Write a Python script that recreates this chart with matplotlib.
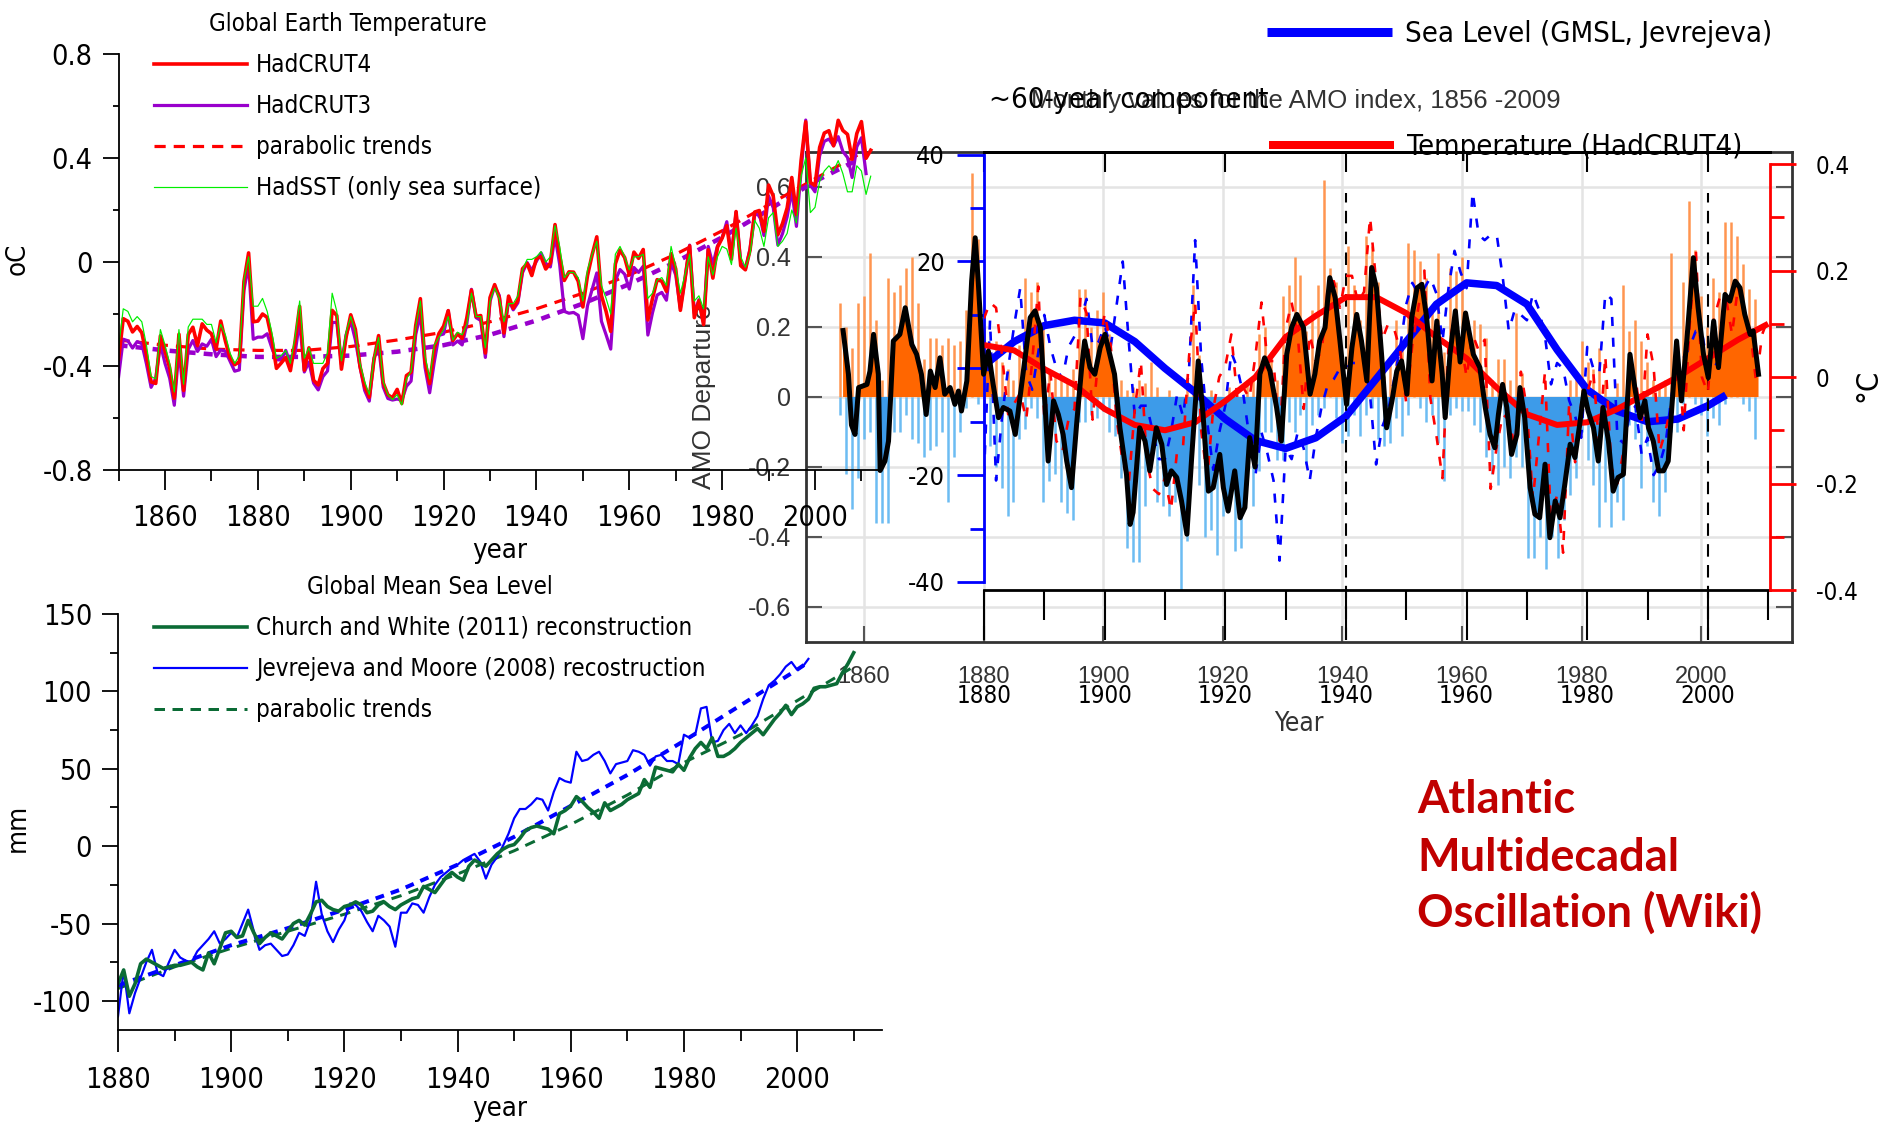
import os
import numpy as np
import matplotlib
matplotlib.use('Agg')
import matplotlib.pyplot as plt
from matplotlib import font_manager as fm
from matplotlib.font_manager import FontProperties
from matplotlib.ticker import FixedLocator, MultipleLocator, NullFormatter

W, H = 1886, 1126

_have = {f.name for f in fm.fontManager.ttflist}
ARIAL = 'Liberation Sans'
WIKI = 'Lato' if 'Lato' in _have else 'DejaVu Sans'


def find_narrow():
    files = [f.fname for f in fm.fontManager.ttflist]
    prefs = ['LiberationSansNarrow-Regular', 'NotoSans-Condensed.', 'NotoSans-SemiCondensed.',
             'DejaVuSansCondensed.', 'RobotoCondensed-Regular', 'Roboto-Condensed.',
             'OpenSans-CondensedRegular', 'OpenSans_Condensed-Regular']
    for p in prefs:
        for fn in files:
            if p in os.path.basename(fn):
                return fn
    return fm.findfont(ARIAL)


NARROW_FILE = find_narrow()

# ---------------- global temperature (annual, deg C) ----------------
TEMP_YEARS = list(range(1850, 2013))
HADCRUT4 = [
    -0.373, -0.218, -0.228, -0.269, -0.248, -0.272, -0.358, -0.461, -0.467, -0.284,
    -0.343, -0.407, -0.524, -0.278, -0.494, -0.279, -0.251, -0.321, -0.238, -0.262,
    -0.276, -0.335, -0.227, -0.304, -0.368, -0.395, -0.384, -0.075, 0.035, -0.230,
    -0.227, -0.200, -0.213, -0.296, -0.409, -0.389, -0.367, -0.418, -0.307, -0.171,
    -0.416, -0.330, -0.455, -0.473, -0.410, -0.390, -0.186, -0.206, -0.412, -0.289,
    -0.203, -0.259, -0.402, -0.479, -0.520, -0.377, -0.283, -0.465, -0.511, -0.522,
    -0.490, -0.544, -0.437, -0.424, -0.244, -0.141, -0.383, -0.468, -0.333, -0.275,
    -0.247, -0.187, -0.302, -0.276, -0.294, -0.215, -0.108, -0.210, -0.206, -0.350,
    -0.137, -0.087, -0.137, -0.273, -0.131, -0.178, -0.147, -0.026, -0.006, -0.052,
    0.014, 0.020, -0.027, -0.004, 0.144, 0.025, -0.071, -0.038, -0.039, -0.074,
    -0.173, -0.052, 0.028, 0.097, -0.129, -0.190, -0.267, -0.007, 0.046, 0.017,
    -0.049, 0.038, 0.014, 0.048, -0.223, -0.140, -0.068, -0.074, -0.113, 0.032,
    -0.027, -0.186, -0.065, 0.062, -0.214, -0.149, -0.241, 0.047, -0.062, 0.057,
    0.092, 0.140, 0.011, 0.194, -0.014, -0.030, 0.045, 0.192, 0.198, 0.118,
    0.296, 0.254, 0.105, 0.148, 0.208, 0.325, 0.183, 0.390, 0.539, 0.306,
    0.294, 0.441, 0.496, 0.505, 0.447, 0.545, 0.506, 0.491, 0.395, 0.494,
    0.540, 0.399, 0.430]
HADCRUT3_YEARS = list(range(1850, 2012))
HADCRUT3 = [
    -0.441, -0.297, -0.303, -0.331, -0.306, -0.314, -0.392, -0.482, -0.447, -0.316,
    -0.390, -0.447, -0.551, -0.337, -0.516, -0.336, -0.302, -0.344, -0.315, -0.324,
    -0.297, -0.364, -0.338, -0.343, -0.382, -0.420, -0.415, -0.109, -0.010, -0.297,
    -0.289, -0.289, -0.276, -0.330, -0.376, -0.377, -0.340, -0.390, -0.351, -0.227,
    -0.423, -0.385, -0.466, -0.492, -0.441, -0.419, -0.232, -0.233, -0.394, -0.280,
    -0.227, -0.300, -0.403, -0.494, -0.535, -0.370, -0.322, -0.481, -0.525, -0.531,
    -0.527, -0.532, -0.478, -0.458, -0.279, -0.199, -0.405, -0.503, -0.384, -0.282,
    -0.277, -0.187, -0.319, -0.304, -0.319, -0.239, -0.105, -0.214, -0.225, -0.367,
    -0.151, -0.093, -0.129, -0.287, -0.147, -0.184, -0.157, -0.041, -0.002, -0.032,
    0.003, 0.035, -0.005, -0.019, 0.100, -0.009, -0.190, -0.197, -0.194, -0.205,
    -0.295, -0.168, -0.105, -0.042, -0.228, -0.280, -0.335, -0.071, -0.029, -0.047,
    -0.104, -0.021, -0.040, -0.016, -0.281, -0.195, -0.127, -0.117, -0.147, -0.002,
    -0.050, -0.179, -0.065, 0.065, -0.197, -0.145, -0.236, 0.060, -0.009, 0.062,
    0.094, 0.155, 0.023, 0.192, -0.003, -0.028, 0.050, 0.180, 0.187, 0.102,
    0.254, 0.210, 0.065, 0.109, 0.174, 0.276, 0.137, 0.351, 0.546, 0.296,
    0.270, 0.409, 0.464, 0.473, 0.447, 0.482, 0.425, 0.402, 0.325, 0.443,
    0.478, 0.340]
HADSST = [
    -0.33, -0.18, -0.19, -0.23, -0.21, -0.23, -0.32, -0.44, -0.45, -0.26,
    -0.32, -0.39, -0.50, -0.26, -0.47, -0.25, -0.22, -0.22, -0.22, -0.24,
    -0.24, -0.31, -0.24, -0.28, -0.35, -0.39, -0.36, -0.07, 0.02, -0.17,
    -0.17, -0.14, -0.19, -0.27, -0.37, -0.36, -0.34, -0.39, -0.29, -0.15,
    -0.37, -0.33, -0.39, -0.39, -0.39, -0.35, -0.12, -0.19, -0.38, -0.27,
    -0.21, -0.27, -0.39, -0.46, -0.51, -0.37, -0.29, -0.46, -0.51, -0.53,
    -0.51, -0.55, -0.45, -0.42, -0.25, -0.15, -0.36, -0.45, -0.32, -0.29,
    -0.26, -0.21, -0.30, -0.27, -0.28, -0.24, -0.12, -0.21, -0.21, -0.33,
    -0.15, -0.10, -0.14, -0.23, -0.16, -0.16, -0.13, -0.03, 0.01, 0.01,
    0.02, 0.04, 0.00, 0.02, 0.14, 0.06, -0.06, -0.04, -0.04, -0.06,
    -0.15, -0.03, 0.03, 0.08, -0.09, -0.14, -0.20, 0.03, 0.06, 0.02,
    -0.03, 0.02, 0.02, 0.03, -0.14, -0.12, -0.07, -0.06, -0.09, 0.06,
    -0.02, -0.12, -0.05, 0.03, -0.15, -0.13, -0.18, 0.02, -0.05, 0.02,
    0.06, 0.05, -0.01, 0.13, 0.02, -0.02, 0.03, 0.16, 0.13, 0.06,
    0.17, 0.19, 0.06, 0.08, 0.11, 0.20, 0.15, 0.33, 0.40, 0.19,
    0.21, 0.31, 0.35, 0.37, 0.35, 0.39, 0.34, 0.27, 0.27, 0.37,
    0.35, 0.26, 0.33]
TREND_YEARS = list(range(1850, 2011, 10))
HADCRUT4_TREND = [-0.30, -0.32, -0.335, -0.34, -0.34, -0.325, -0.30, -0.27, -0.23,
                  -0.18, -0.12, -0.05, 0.03, 0.12, 0.22, 0.32, 0.42]
HADCRUT3_TREND = [-0.32, -0.34, -0.355, -0.365, -0.365, -0.36, -0.345, -0.32, -0.28,
                  -0.225, -0.16, -0.085, 0.0, 0.095, 0.20, 0.31, 0.40]
TEMP_XTICKS = [1860, 1880, 1900, 1920, 1940, 1960, 1980, 2000]
TEMP_YTICKS = [-0.8, -0.4, 0, 0.4, 0.8]
TEMP_YTICK_LABELS = ['-0.8', '-0.4', '0', '0.4', '0.8']

# ---------------- global mean sea level (mm) ----------------
CW_YEARS = list(range(1880, 2011))
CHURCH_WHITE = [
    -89, -80, -97, -89, -76, -73, -75, -77, -79, -78,
    -77, -77, -76, -75, -78, -80, -69, -76, -66, -56,
    -55, -59, -58, -48, -56, -63, -59, -56, -58, -60,
    -55, -50, -48, -51, -44, -36, -35, -39, -41, -42,
    -39, -38, -36, -38, -43, -42, -38, -36, -39, -41,
    -38, -36, -34, -33, -26, -28, -30, -25, -20, -17,
    -20, -22, -13, -9, -11, -13, -9, -5, -2, 0,
    1, 5, 10, 12, 13, 12, 11, 8, 21, 23,
    26, 32, 29, 25, 22, 18, 28, 23, 25, 27,
    30, 32, 34, 43, 38, 51, 50, 49, 48, 53,
    49, 57, 63, 67, 63, 70, 58, 58, 60, 63,
    67, 70, 73, 76, 72, 77, 82, 86, 91, 85,
    90, 92, 95, 102, 103, 103, 104, 105, 112, 118,
    125]
JM_YEARS = list(range(1880, 2003))
JEVREJEVA = [
    -110, -80, -108, -95, -85, -75, -67, -82, -84, -75,
    -67, -72, -74, -75, -68, -64, -60, -55, -63, -60,
    -56, -59, -50, -41, -55, -67, -64, -63, -67, -71,
    -70, -64, -56, -58, -48, -23, -44, -55, -62, -54,
    -48, -37, -38, -42, -49, -55, -45, -48, -52, -65,
    -43, -43, -37, -38, -43, -33, -25, -20, -17, -14,
    -12, -9, -7, -5, -10, -21, -12, -7, 0, 8,
    18, 24, 24, 27, 31, 30, 23, 35, 44, 42,
    41, 61, 55, 56, 59, 61, 55, 47, 53, 54,
    55, 62, 61, 59, 52, 58, 59, 55, 55, 53,
    72, 70, 72, 89, 90, 67, 68, 75, 79, 73,
    78, 73, 78, 84, 95, 104, 107, 111, 116, 119,
    114, 116, 121]
CW_TREND_YEARS = list(range(1880, 2011, 10))
CW_TREND = [-92, -78, -66, -55, -44, -32, -18, -3, 14, 33, 54, 72, 94, 116]
JM_TREND_YEARS = list(range(1880, 2001, 10)) + [2002]
JM_TREND = [-90, -77, -64, -53, -41, -28, -12, 6, 26, 46, 68, 91, 114, 119]
SL_XTICKS = [1880, 1900, 1920, 1940, 1960, 1980, 2000]
SL_YTICKS = [-100, -50, 0, 50, 100, 150]

# ---------------- AMO index (Wikipedia panel) ----------------
AMO_YEARS = list(range(1856, 2010))
AMO_MAX = [
    0.27, 0.20, 0.14, 0.27, 0.29, 0.41, 0.22, 0.05, 0.34, 0.30,
    0.32, 0.37, 0.40, 0.27, 0.11, 0.17, 0.17, 0.15, 0.17, 0.15,
    0.16, 0.25, 0.64, 0.45, 0.20, 0.10, 0.16, 0.10, 0.08, 0.05,
    0.15, 0.34, 0.30, 0.33, 0.20, 0.07, 0.06, 0.05, 0.04, 0.08,
    0.31, 0.31, 0.20, 0.25, 0.30, 0.18, 0.07, 0.05, 0.02, 0.03,
    0.05, 0.04, 0.10, 0.03, 0.00, 0.02, 0.00, 0.00, 0.05, 0.32,
    0.12, 0.00, 0.02, 0.00, 0.00, 0.03, 0.00, 0.00, 0.05, 0.05,
    0.18, 0.20, 0.13, 0.05, 0.29, 0.32, 0.40, 0.35, 0.19, 0.25,
    0.32, 0.62, 0.37, 0.33, 0.10, 0.43, 0.32, 0.22, 0.46, 0.43,
    0.33, 0.06, 0.10, 0.22, 0.16, 0.44, 0.42, 0.39, 0.34, 0.25,
    0.41, 0.13, 0.37, 0.36, 0.40, 0.22, 0.22, 0.21, 0.17, 0.05,
    0.11, 0.11, 0.05, 0.24, 0.07, 0.00, 0.00, 0.00, 0.00, 0.00,
    0.00, 0.00, 0.05, 0.07, 0.16, 0.10, 0.08, 0.14, 0.05, 0.00,
    0.04, 0.32, 0.19, 0.22, 0.16, 0.10, 0.05, 0.03, 0.05, 0.41,
    0.15, 0.33, 0.56, 0.42, 0.29, 0.20, 0.34, 0.30, 0.50, 0.50,
    0.46, 0.38, 0.31, 0.28]
AMO_MIN = [
    -0.05, -0.22, -0.32, -0.23, -0.12, -0.10, -0.36, -0.36, -0.36, -0.10,
    -0.10, -0.05, -0.12, -0.13, -0.17, -0.15, -0.14, -0.10, -0.30, -0.17,
    -0.10, -0.03, 0.00, -0.02, -0.08, -0.14, -0.20, -0.26, -0.34, -0.30,
    -0.12, -0.09, -0.03, -0.06, -0.30, -0.24, -0.22, -0.30, -0.33, -0.35,
    -0.07, -0.07, -0.05, -0.06, -0.04, -0.10, -0.11, -0.23, -0.43, -0.47,
    -0.47, -0.31, -0.20, -0.30, -0.31, -0.34, -0.30, -0.55, -0.41, -0.10,
    -0.25, -0.40, -0.38, -0.45, -0.34, -0.30, -0.44, -0.43, -0.25, -0.31,
    -0.21, -0.10, -0.10, -0.18, -0.18, -0.07, -0.10, -0.05, -0.19, -0.08,
    -0.05, -0.03, 0.00, -0.06, -0.13, -0.11, -0.05, -0.11, -0.05, -0.03,
    -0.12, -0.14, -0.13, -0.06, -0.11, -0.05, 0.00, -0.03, -0.07, -0.05,
    -0.13, -0.24, -0.05, -0.03, -0.04, -0.04, -0.08, -0.10, -0.17, -0.22,
    -0.25, -0.20, -0.23, -0.17, -0.20, -0.46, -0.46, -0.40, -0.49, -0.40,
    -0.46, -0.35, -0.28, -0.23, -0.10, -0.18, -0.25, -0.37, -0.30, -0.37,
    -0.30, -0.35, -0.08, -0.12, -0.26, -0.14, -0.30, -0.34, -0.27, -0.10,
    -0.10, -0.02, 0.00, -0.02, -0.05, -0.11, -0.06, -0.08, -0.02, 0.00,
    0.00, -0.02, -0.04, -0.12]
SM_YEAR = [
    1856.5, 1857.4, 1857.9, 1858.5, 1859.1, 1860.5, 1861.0, 1861.6, 1862.4, 1862.7,
    1863.5, 1864.1, 1864.9, 1866.0, 1866.9, 1868.0, 1868.8, 1869.6, 1870.4, 1871.1,
    1871.9, 1872.7, 1873.5, 1874.4, 1875.2, 1875.8, 1876.3, 1877.2, 1878.0, 1878.6,
    1879.1, 1880.0, 1880.8, 1881.6, 1882.5, 1883.3, 1884.4, 1885.3, 1886.1, 1887.0,
    1887.8, 1888.6, 1889.5, 1890.3, 1890.8, 1891.7, 1892.5, 1893.3, 1893.9, 1894.7,
    1895.6, 1896.4, 1896.9, 1897.8, 1898.6, 1899.5, 1900.3, 1901.1, 1901.9, 1902.8,
    1903.9, 1904.5, 1905.0, 1905.6, 1906.1, 1907.0, 1907.8, 1908.9, 1909.8, 1910.6,
    1911.4, 1912.3, 1913.1, 1914.0, 1914.8, 1915.9, 1916.7, 1917.6, 1918.4, 1919.5,
    1920.1, 1920.9, 1922.0, 1922.9, 1923.7, 1924.5, 1925.4, 1926.2, 1927.0, 1927.9,
    1929.0, 1929.8, 1930.7, 1931.5, 1932.4, 1933.5, 1934.6, 1935.4, 1936.2, 1937.1,
    1937.9, 1938.8, 1939.6, 1940.7, 1941.6, 1942.4, 1943.2, 1944.1, 1944.9, 1945.7,
    1946.6, 1947.4, 1948.3, 1949.1, 1949.9, 1950.8, 1951.6, 1952.5, 1953.3, 1954.1,
    1955.0, 1955.8, 1956.7, 1957.2, 1958.0, 1958.9, 1959.7, 1960.6, 1961.9, 1963.0,
    1963.9, 1964.7, 1965.5, 1966.1, 1966.8, 1967.5, 1968.3, 1969.2, 1969.7, 1970.5,
    1971.4, 1972.2, 1973.0, 1973.9, 1974.7, 1975.6, 1976.4, 1977.2, 1978.1, 1978.9,
    1979.7, 1980.4, 1981.1, 1982.0, 1982.8, 1983.6, 1984.5, 1985.3, 1986.1, 1987.0,
    1988.1, 1989.0, 1989.8, 1990.6, 1991.2, 1992.0, 1992.9, 1993.7, 1994.5, 1995.1,
    1995.9, 1996.7, 1997.6, 1998.7, 1999.5, 2000.4, 2001.2, 2002.1, 2002.9, 2004.0,
    2004.8, 2005.7, 2006.5, 2007.3, 2008.2, 2008.7, 2009.6]
SM_VAL = [
    0.19, 0.065, -0.08, -0.107, 0.027, 0.036, 0.074, 0.179, 0.065, -0.21,
    -0.183, -0.126, 0.16, 0.179, 0.255, 0.15, 0.122, 0.065, -0.05, 0.074,
    0.027, 0.112, 0.008, 0.027, -0.021, 0.017, -0.04, 0.046, 0.331, 0.455,
    0.331, 0.065, 0.131, 0.036, -0.059, -0.03, -0.04, -0.107, 0.0, 0.122,
    0.227, 0.246, 0.198, -0.03, -0.183, -0.011, -0.05, -0.107, -0.183, -0.259,
    -0.069, 0.084, 0.16, 0.084, 0.065, 0.141, 0.179, 0.122, 0.065, -0.088,
    -0.221, -0.364, -0.33, -0.2, -0.088, -0.126, -0.211, -0.088, -0.135, -0.25,
    -0.211, -0.23, -0.297, -0.392, -0.173, 0.103, -0.05, -0.269, -0.259, -0.164,
    -0.259, -0.326, -0.211, -0.345, -0.316, -0.116, -0.2, 0.065, 0.112, 0.074,
    -0.03, -0.126, 0.122, 0.198, 0.236, 0.198, 0.008, 0.065, 0.16, 0.198,
    0.341, 0.284, 0.16, -0.021, 0.141, 0.236, 0.16, 0.046, 0.37, 0.312,
    0.112, -0.088, -0.011, 0.074, 0.103, 0.008, 0.227, 0.312, 0.322, 0.227,
    0.046, 0.217, 0.065, -0.059, 0.122, 0.246, 0.1, 0.24, 0.122, 0.084,
    -0.03, -0.107, -0.145, -0.05, 0.036, -0.03, -0.164, -0.107, 0.027, -0.059,
    -0.259, -0.335, -0.345, -0.192, -0.402, -0.297, -0.345, -0.25, -0.135, -0.173,
    -0.078, 0.017, -0.04, -0.088, -0.183, -0.03, -0.126, -0.269, -0.23, -0.221,
    0.122, 0.017, -0.059, -0.011, -0.088, -0.126, -0.211, -0.211, -0.183, -0.03,
    0.16, -0.011, 0.16, 0.398, 0.255, 0.122, 0.055, 0.217, 0.084, 0.293,
    0.274, 0.331, 0.312, 0.236, 0.179, 0.189, 0.065]
AMO_XTICKS = [1860, 1880, 1900, 1920, 1940, 1960, 1980, 2000]
AMO_YTICKS = [-0.6, -0.4, -0.2, 0, 0.2, 0.4, 0.6]
AMO_YTICK_LABELS = ['-0.6', '-0.4', '-0.2', '0', '0.2', '0.4', '0.6']

# ---------------- ~60-year component overlay ----------------
T_DETR_YEARS = list(range(1880, 2011))
T_DETR = [
    0.11, 0.14, 0.13, 0.04, -0.07, -0.05, -0.03, -0.08, 0.03, 0.17,
    -0.08, 0.01, -0.12, -0.14, -0.08, -0.06, 0.15, 0.12, -0.08, 0.04,
    0.12, 0.06, -0.08, -0.16, -0.20, -0.06, 0.03, -0.16, -0.21, -0.22,
    -0.19, -0.25, -0.14, -0.13, 0.04, 0.14, -0.10, -0.19, -0.06, 0.00,
    0.02, 0.08, -0.04, -0.02, -0.04, 0.04, 0.14, 0.03, 0.03, -0.12,
    0.09, 0.14, 0.08, -0.06, 0.08, 0.03, 0.05, 0.17, 0.18, 0.13,
    0.19, 0.19, 0.14, 0.16, 0.30, 0.18, 0.07, 0.10, 0.09, 0.05,
    -0.05, 0.06, 0.13, 0.20, -0.04, -0.11, -0.19, 0.06, 0.11, 0.07,
    0.00, 0.08, 0.05, 0.07, -0.21, -0.13, -0.07, -0.08, -0.13, 0.01,
    -0.06, -0.23, -0.11, 0.01, -0.28, -0.22, -0.33, -0.05, -0.16, -0.05,
    -0.03, 0.01, -0.13, 0.04, -0.17, -0.20, -0.14, 0.00, 0.00, -0.09,
    0.08, 0.02, -0.14, -0.10, -0.05, 0.06, -0.10, 0.10, 0.24, 0.00,
    -0.03, 0.11, 0.15, 0.15, 0.08, 0.17, 0.12, 0.09, -0.01, 0.08,
    0.11]
SL_DETR_YEARS = list(range(1880, 2003))
SL_DETR = [
    -20, 9, -21, -9, 0, 8, 15, -1, -4, 3,
    10, 4, 0, -2, 4, 6, 9, 13, 4, 5,
    8, 4, 12, 20, 5, -9, -7, -7, -12, -17,
    -17, -12, -5, -9, 0, 24, 2, -10, -19, -12,
    -7, 3, 0, -5, -13, -20, -12, -16, -21, -36,
    -15, -17, -12, -15, -21, -13, -7, -3, -2, 0,
    0, 1, 1, 2, -5, -18, -11, -8, -2, 4,
    12, 16, 14, 15, 17, 14, 5, 15, 22, 18,
    15, 33, 25, 24, 25, 25, 17, 7, 11, 10,
    9, 14, 11, 6, -3, 1, 0, -6, -9, -13,
    4, 0, -1, 14, 13, -13, -14, -9, -7, -16,
    -13, -20, -18, -14, -5, 1, 2, 4, 7, 7,
    0, 0, 2]
COMP_T_YEARS = list(range(1880, 2011, 5))
COMP_T = [0.06, 0.05, 0.015, -0.015, -0.06, -0.09, -0.10, -0.085, -0.045, 0.0,
          0.075, 0.115, 0.15, 0.15, 0.12, 0.075, 0.035, -0.02, -0.07, -0.09,
          -0.085, -0.06, -0.03, 0.0, 0.035, 0.07, 0.10]
COMP_SL_YEARS = list(range(1880, 2001, 5)) + [2003]
COMP_SL = [0.5, 5, 8, 9, 8.5, 5, 0, -4.5, -9.5, -13.5, -15, -13, -9, -2, 5, 12,
           16, 15.5, 12, 3.5, -4, -8, -10, -9.5, -7, -5]
C60_XTICKS = [1880, 1900, 1920, 1940, 1960, 1980, 2000]
C60_SL_TICKS = [-40, -20, 0, 20, 40]
C60_SL_LABELS = ['-40', '-20', '', '20', '40']
C60_T_TICKS = [-0.4, -0.2, 0, 0.2, 0.4]
C60_T_LABELS = ['-0.4', '-0.2', '0', '0.2', '0.4']
PERIOD_MARKS = [1940, 2000]


def rect(x0, y0, x1, y1):
    """pixel box (top-left origin) -> figure fraction rect"""
    return [x0 / W, 1 - y1 / H, (x1 - x0) / W, (y1 - y0) / H]


def pt(pixels):
    return pixels * 0.72


fig = plt.figure(figsize=(W / 100, H / 100), dpi=100)
fig.patch.set_facecolor('white')
renderer = fig.canvas.get_renderer()


def text_box(s, fp):
    t = fig.text(0, 0, s, fontproperties=fp)
    bb = t.get_window_extent(renderer)
    t.remove()
    return bb.width, bb.height


# scale the narrow face so its widths match the reference lettering
_w, _ = text_box('Global Earth Temperature', FontProperties(fname=NARROW_FILE, size=21))
NSCALE = 277.0 / _w


def nfp(size):
    return FontProperties(fname=NARROW_FILE, size=size * NSCALE)


def narrow_ticks(labels, size):
    for lab in labels:
        lab.set_fontproperties(nfp(size))


# ===== AMO panel (bottom layer) =====
ax_amo = fig.add_axes(rect(806, 152, 1792, 642), zorder=1)
ax_amo.set_xlim(1850.3, 2015.2)
ax_amo.set_ylim(-0.7, 0.7)
ax_amo.set_xticks(AMO_XTICKS)
ax_amo.set_xticklabels([str(y) for y in AMO_XTICKS])
ax_amo.set_yticks(AMO_YTICKS)
ax_amo.set_yticklabels(AMO_YTICK_LABELS)
ax_amo.grid(True, color='#e4e4e4', lw=1.8)
ax_amo.set_axisbelow(True)
ax_amo.tick_params(direction='in', length=pt(16), width=1.5, color='#555555',
                   labelcolor='#333333', right=True, labelfontfamily=ARIAL)
ax_amo.tick_params(axis='x', labelsize=17, pad=pt(24))
ax_amo.tick_params(axis='y', labelsize=18, pad=pt(15))
for s in ax_amo.spines.values():
    s.set_color('#333333')
    s.set_linewidth(2)

ax_amo.vlines(AMO_YEARS, 0, AMO_MAX, color='#ff9550', lw=1.8, zorder=2)
ax_amo.vlines(AMO_YEARS, AMO_MIN, 0, color='#6cbcf2', lw=1.8, zorder=2)
sm = np.array(SM_VAL)
ax_amo.fill_between(SM_YEAR, sm, 0, where=sm >= 0, interpolate=True,
                    color='#ff6600', lw=0, zorder=3)
ax_amo.fill_between(SM_YEAR, sm, 0, where=sm <= 0, interpolate=True,
                    color='#3d9be9', lw=0, zorder=3)

# ===== ~60-year component overlay =====
ax60 = fig.add_axes(rect(984, 152, 1770, 590), zorder=2)
ax60.patch.set_visible(False)
ax60.set_xlim(1880, 2010.3)
ax60.set_ylim(-41.5, 40.5)
ax60r = ax60.twinx()
ax60r.set_zorder(2.2)
ax60r.patch.set_visible(False)
ax60r.set_ylim(-0.3946, 0.4226)

ax60.plot(SL_DETR_YEARS, SL_DETR, color='#0000ff', lw=pt(2.6), dashes=(3.5, 4.5))
ax60r.plot(T_DETR_YEARS, T_DETR, color='#ff0000', lw=pt(2.6), dashes=(3.5, 4.5))
sl_line, = ax60.plot(COMP_SL_YEARS, COMP_SL, color='#0000ff', lw=pt(7.5),
                     solid_capstyle='butt')
t_line, = ax60r.plot(COMP_T_YEARS, COMP_T, color='#ff0000', lw=pt(6),
                     solid_capstyle='butt')
for yr in PERIOD_MARKS:
    ax60.axvline(yr, ymin=-50 / 438, ymax=(590 - 193) / 438, color='k',
                 lw=1.5, dashes=(6, 4), clip_on=False)

ax60.set_xticks(C60_XTICKS)
ax60.set_xticklabels([str(y) for y in C60_XTICKS])
ax60.xaxis.set_minor_locator(MultipleLocator(10))
ax60.tick_params(axis='x', which='major', direction='out', length=pt(50),
                 width=1.5, color='k', pad=pt(44))
ax60.tick_params(axis='x', which='minor', direction='out', length=pt(30),
                 width=1.5, color='k')
narrow_ticks(ax60.get_xticklabels(), 21)
ax60.set_yticks(C60_SL_TICKS)
ax60.set_yticklabels(C60_SL_LABELS)
ax60.yaxis.set_minor_locator(FixedLocator([-30, -10, 10, 30]))
ax60.tick_params(axis='y', which='major', direction='out', length=pt(27),
                 width=2, color='#0000ff', pad=pt(12))
ax60.tick_params(axis='y', which='minor', direction='out', length=pt(14),
                 width=2, color='#0000ff')
narrow_ticks(ax60.get_yticklabels(), 22)
ax60.spines['left'].set_color('#0000ff')
ax60.spines['left'].set_linewidth(2)
ax60.spines['left'].set_bounds(-40, 40)
ax60.spines['right'].set_visible(False)
for s in ('top', 'bottom'):
    ax60.spines[s].set_color('k')
    ax60.spines[s].set_linewidth(2)
top = ax60.secondary_xaxis('top')
top.set_xticks(C60_XTICKS)
top.xaxis.set_major_formatter(NullFormatter())
top.tick_params(direction='in', length=pt(20), width=1.5, color='k')
top.spines['top'].set_linewidth(2)

ax60r.set_yticks(C60_T_TICKS)
ax60r.set_yticklabels(C60_T_LABELS)
ax60r.yaxis.set_minor_locator(FixedLocator([-0.3, -0.1, 0.1, 0.3]))
ax60r.tick_params(axis='y', which='major', direction='out', length=pt(26),
                  width=2, color='#ff0000', pad=pt(20))
ax60r.tick_params(axis='y', which='minor', direction='out', length=pt(14),
                  width=2, color='#ff0000')
narrow_ticks(ax60r.get_yticklabels(), 21)
for s in ('left', 'top', 'bottom'):
    ax60r.spines[s].set_visible(False)
ax60r.spines['right'].set_color('#ff0000')
ax60r.spines['right'].set_linewidth(2)
ax60r.spines['right'].set_bounds(-0.4, 0.4)

big = nfp(25.5)
big_px = big.get_size() / 0.72
leg1 = ax60r.legend([sl_line], ['Sea Level (GMSL, Jevrejeva)'], loc='center left',
                    bbox_to_anchor=(1267 / W, 1 - 34 / H), bbox_transform=fig.transFigure,
                    frameon=False, borderpad=0, borderaxespad=0,
                    handlelength=125 / big_px, handletextpad=13 / big_px, prop=big)
leg1.legend_handles[0].set_linewidth(pt(9))
ax60r.add_artist(leg1)
leg2 = ax60r.legend([t_line], ['Temperature (HadCRUT4)'], loc='center left',
                    bbox_to_anchor=(1269 / W, 1 - 147 / H), bbox_transform=fig.transFigure,
                    frameon=False, borderpad=0, borderaxespad=0,
                    handlelength=125 / big_px, handletextpad=13 / big_px, prop=big)
leg2.legend_handles[0].set_linewidth(pt(8))

# smoothed AMO curve on top of everything in that panel
ax_top = fig.add_axes(rect(806, 152, 1792, 642), zorder=3)
ax_top.set_xlim(1850.3, 2015.2)
ax_top.set_ylim(-0.7, 0.7)
ax_top.axis('off')
ax_top.plot(SM_YEAR, SM_VAL, color='k', lw=pt(5), solid_joinstyle='round')

fig.text(1296 / W, 1 - 101 / H, 'Monthly values for the AMO index, 1856 -2009',
         ha='center', va='center', family=ARIAL, size=18.5, color='#333333', zorder=4.5)
fig.text(989 / W, 1 - 100 / H, '~60-year component', ha='left', va='center',
         fontproperties=nfp(25.5), color='k', zorder=5)
fig.text(704 / W, 1 - 397 / H, 'AMO Departure', rotation=90, ha='center', va='center',
         family=ARIAL, size=19, color='#333333', zorder=3.5)
fig.text(1299 / W, 1 - 724 / H, 'Year', ha='center', va='center',
         fontproperties=nfp(23), color='#333333')
fig.text(1868 / W, 1 - 385 / H, '°C', rotation=90, ha='center', va='center',
         fontproperties=nfp(27))

# legend geometry: rows 41 px apart, title centred on the given y
small = nfp(21)
small_px = small.get_size() / 0.72
_, row_h = text_box('lp', small)
SPACING = (41 - row_h) / small_px

# ===== Global Earth Temperature =====
ax_t = fig.add_axes(rect(118.6, 54, 880, 470), zorder=4)
ax_t.patch.set_visible(False)
ax_t.set_xlim(1850, 2014)
ax_t.set_ylim(-0.8, 0.8)
lp4, = ax_t.plot(TREND_YEARS, HADCRUT4_TREND, color='#ff0000', lw=pt(3.2), dashes=(3.5, 2.5))
ax_t.plot(TREND_YEARS, HADCRUT3_TREND, color='#9900cc', lw=pt(4.5), dashes=(2, 1.8))
l3, = ax_t.plot(HADCRUT3_YEARS, HADCRUT3, color='#9900cc', lw=pt(3.2))
l4, = ax_t.plot(TEMP_YEARS, HADCRUT4, color='#ff0000', lw=pt(3.6))
lsst, = ax_t.plot(TEMP_YEARS, HADSST, color='#00ee00', lw=pt(1.2))
ax_t.set_xticks(TEMP_XTICKS)
ax_t.set_xticklabels([str(y) for y in TEMP_XTICKS])
ax_t.xaxis.set_minor_locator(MultipleLocator(10))
ax_t.set_yticks(TEMP_YTICKS)
ax_t.set_yticklabels(TEMP_YTICK_LABELS)
ax_t.yaxis.set_minor_locator(MultipleLocator(0.2))
for s in ('top', 'right'):
    ax_t.spines[s].set_visible(False)
for s in ('left', 'bottom'):
    ax_t.spines[s].set_linewidth(1.3)
ax_t.tick_params(which='both', direction='out', width=1.3)
ax_t.tick_params(axis='x', which='major', length=pt(20), pad=pt(14))
ax_t.tick_params(axis='x', which='minor', length=pt(11))
ax_t.tick_params(axis='y', which='major', length=pt(16), pad=pt(10))
ax_t.tick_params(axis='y', which='minor', length=pt(6))
narrow_ticks(ax_t.get_xticklabels() + ax_t.get_yticklabels(), 25)
ax_t.legend([l4, l3, lp4, lsst],
            ['HadCRUT4', 'HadCRUT3', 'parabolic trends', 'HadSST (only sea surface)'],
            title='Global Earth Temperature', title_fontproperties=small, prop=small,
            loc='upper left', bbox_to_anchor=(154 / W, 1 - (24 - row_h / 2) / H),
            bbox_transform=fig.transFigure, frameon=False, borderpad=0,
            borderaxespad=0, handlelength=93 / small_px, handletextpad=9 / small_px,
            labelspacing=SPACING)
fig.text(18 / W, 1 - 259 / H, 'oC', rotation=90, ha='center', va='center',
         fontproperties=nfp(24))
fig.text(500 / W, 1 - 551 / H, 'year', ha='center', va='center', fontproperties=nfp(24))

# ===== Global Mean Sea Level =====
ax_s = fig.add_axes(rect(118, 614, 882, 1030), zorder=4)
ax_s.patch.set_visible(False)
ax_s.set_xlim(1880, 2015)
ax_s.set_ylim(-118.8, 150)
ltr, = ax_s.plot(CW_TREND_YEARS, CW_TREND, color='#0b6b35', lw=pt(3), dashes=(3.5, 2.5))
ax_s.plot(JM_TREND_YEARS, JM_TREND, color='#0000ff', lw=pt(4), dashes=(2.2, 1.8))
ljm, = ax_s.plot(JM_YEARS, JEVREJEVA, color='#0000ff', lw=pt(2.2))
lcw, = ax_s.plot(CW_YEARS, CHURCH_WHITE, color='#0b6b35', lw=pt(3.6))
ax_s.set_xticks(SL_XTICKS)
ax_s.set_xticklabels([str(y) for y in SL_XTICKS])
ax_s.xaxis.set_minor_locator(MultipleLocator(10))
ax_s.set_yticks(SL_YTICKS)
ax_s.set_yticklabels([str(v) for v in SL_YTICKS])
ax_s.yaxis.set_minor_locator(MultipleLocator(25))
for s in ('top', 'right'):
    ax_s.spines[s].set_visible(False)
for s in ('left', 'bottom'):
    ax_s.spines[s].set_linewidth(1.3)
ax_s.tick_params(which='both', direction='out', width=1.3)
ax_s.tick_params(axis='x', which='major', length=pt(22), pad=pt(14))
ax_s.tick_params(axis='x', which='minor', length=pt(11))
ax_s.tick_params(axis='y', which='major', length=pt(16), pad=pt(10))
ax_s.tick_params(axis='y', which='minor', length=pt(8))
narrow_ticks(ax_s.get_xticklabels() + ax_s.get_yticklabels(), 25)
ax_s.legend([lcw, ljm, ltr],
            ['Church and White (2011) reconstruction',
             'Jevrejeva and Moore (2008) recostruction', 'parabolic trends'],
            title='Global Mean Sea Level', title_fontproperties=small, prop=small,
            loc='upper left', bbox_to_anchor=(154 / W, 1 - (587 - row_h / 2) / H),
            bbox_transform=fig.transFigure, frameon=False, borderpad=0,
            borderaxespad=0, handlelength=93 / small_px, handletextpad=9 / small_px,
            labelspacing=SPACING)
fig.text(18 / W, 1 - 828 / H, 'mm', rotation=90, ha='center', va='center',
         fontproperties=nfp(24))
fig.text(500 / W, 1 - 1109 / H, 'year', ha='center', va='center', fontproperties=nfp(24))

# ===== caption =====
for txt, base in (('Atlantic', 813), ('Multidecadal', 871), ('Oscillation (Wiki)', 927)):
    fig.text(1417 / W, 1 - base / H, txt, ha='left', va='baseline', family=WIKI,
             weight='bold', size=32.5, color='#c00000')

fig.savefig('out.png', dpi=100)
